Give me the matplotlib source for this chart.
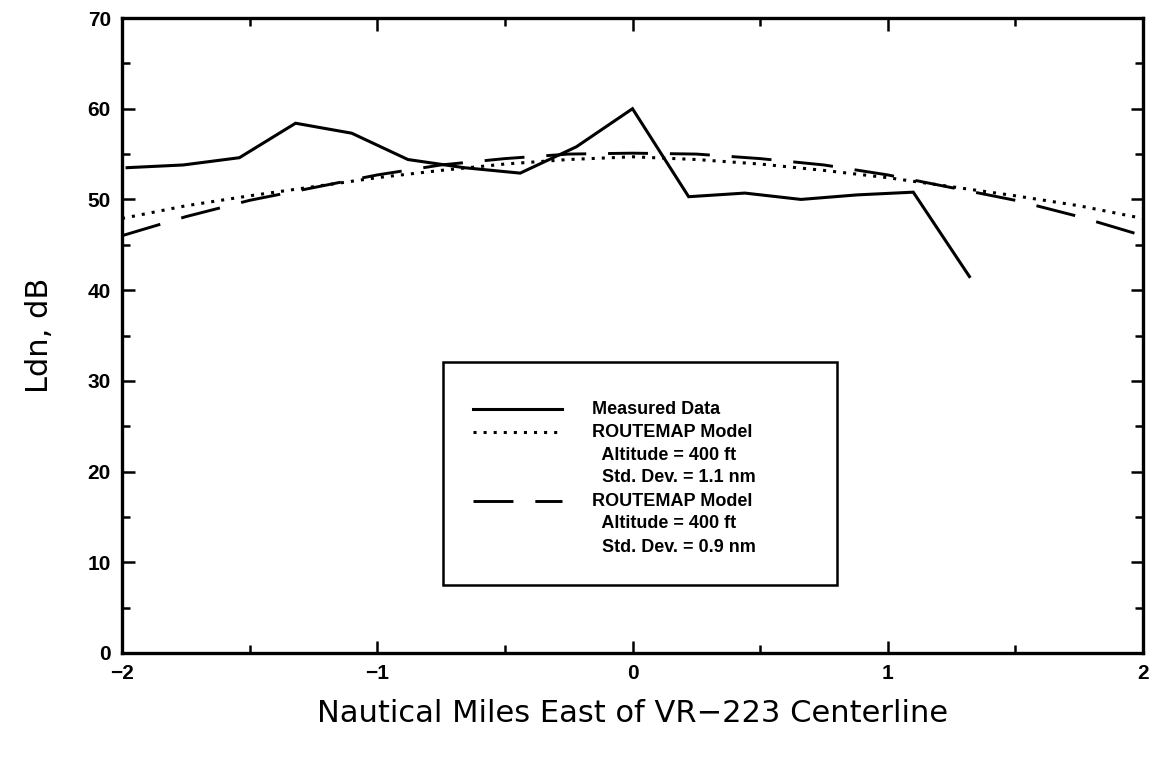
import matplotlib
matplotlib.use("Agg")
import matplotlib.pyplot as plt
from matplotlib.lines import Line2D
from matplotlib.patches import Rectangle
from matplotlib.ticker import MultipleLocator

# Measured Ldn across the route
measured_x = [-1.98, -1.76, -1.54, -1.32, -1.10, -0.88, -0.66, -0.44, -0.22,
              0.00, 0.22, 0.44, 0.66, 0.88, 1.10, 1.32]
measured_ldn = [53.5, 53.8, 54.6, 58.4, 57.3, 54.4, 53.5, 52.9, 55.8,
                60.0, 50.3, 50.7, 50.0, 50.5, 50.8, 41.5]

# ROUTEMAP model predictions
model_x = [-2.0, -1.75, -1.5, -1.25, -1.0, -0.75, -0.5, -0.25, 0.0,
           0.25, 0.5, 0.75, 1.0, 1.25, 1.5, 1.75, 2.0]
model_sd11 = [47.9, 49.3, 50.4, 51.4, 52.4, 53.2, 53.9, 54.4, 54.7,
              54.4, 53.9, 53.2, 52.4, 51.4, 50.4, 49.3, 47.9]
model_sd09 = [46.0, 48.1, 49.9, 51.3, 52.7, 53.8, 54.5, 55.0, 55.1,
              55.0, 54.5, 53.8, 52.7, 51.3, 49.9, 48.1, 46.0]

legend_labels = ["Measured Data",
                 "ROUTEMAP Model", "  Altitude = 400 ft", "  Std. Dev. = 1.1 nm",
                 "ROUTEMAP Model", "  Altitude = 400 ft", "  Std. Dev. = 0.9 nm"]

x_ticks = [-2, -1, 0, 1, 2]
y_ticks = [0, 10, 20, 30, 40, 50, 60, 70]

W, H = 1154, 761
fig = plt.figure(figsize=(W / 100, H / 100), dpi=100)
ax = fig.add_axes([122 / W, (H - 653) / H, 1021 / W, 635 / H])

solid_kw = dict(color="black", lw=2.2, solid_joinstyle="miter")
dot_kw = dict(color="black", lw=2.2, dashes=(1.0, 2.3), dash_capstyle="butt")
dash_kw = dict(color="black", lw=2.1, dashes=(13.7, 7.5), dash_capstyle="butt")

ax.plot(model_x, model_sd11, **dot_kw)
ax.plot(model_x, model_sd09, **dash_kw)
ax.plot(measured_x, measured_ldn, **solid_kw)

ax.set_xlim(-2, 2)
ax.set_ylim(0, 70)
ax.set_xticks(x_ticks)
ax.set_yticks(y_ticks)
ax.xaxis.set_minor_locator(MultipleLocator(0.5))
ax.yaxis.set_minor_locator(MultipleLocator(5))
ax.tick_params(which="both", direction="in", top=True, right=True, width=1.8,
               labelsize=15, pad=8)
ax.tick_params(which="major", length=9)
ax.tick_params(which="minor", length=6)
for lab in ax.get_xticklabels() + ax.get_yticklabels():
    lab.set_fontweight("bold")
    lab.set_family("Liberation Sans")
for sp in ax.spines.values():
    sp.set_linewidth(2.4)

fig.text(0.5 * (122 + 1143) / W, (H - 713) / H,
         "Nautical Miles East of VR\u2212223 Centerline",
         ha="center", va="center", fontsize=22, family="DejaVu Sans")
fig.text(40 / W, (H - 335) / H, "Ldn, dB", rotation=90,
         ha="center", va="center", fontsize=22, family="DejaVu Sans")

# Legend panel drawn in axes coordinates
def fx(px):
    return (px - 122) / 1021

def fy(py):
    return (653 - py) / 635

box = Rectangle((fx(443), fy(585)), fx(837) - fx(443), fy(362) - fy(585),
                transform=ax.transAxes, fill=True, facecolor="white",
                edgecolor="black", lw=1.8, zorder=5)
ax.add_patch(box)

row_py = [409 + 23 * i for i in range(len(legend_labels))]
for lab, py in zip(legend_labels, row_py):
    ax.text(fx(592), fy(py), lab, transform=ax.transAxes, ha="left",
            va="center", fontsize=13, fontweight="bold",
            family="Liberation Sans", zorder=6)

for kw, row in ((solid_kw, 0), (dot_kw, 1), (dash_kw, 4)):
    ax.add_line(Line2D([fx(473), fx(562)], [fy(row_py[row])] * 2,
                       transform=ax.transAxes, zorder=6, **kw))

fig.savefig("out.png", dpi=100)
